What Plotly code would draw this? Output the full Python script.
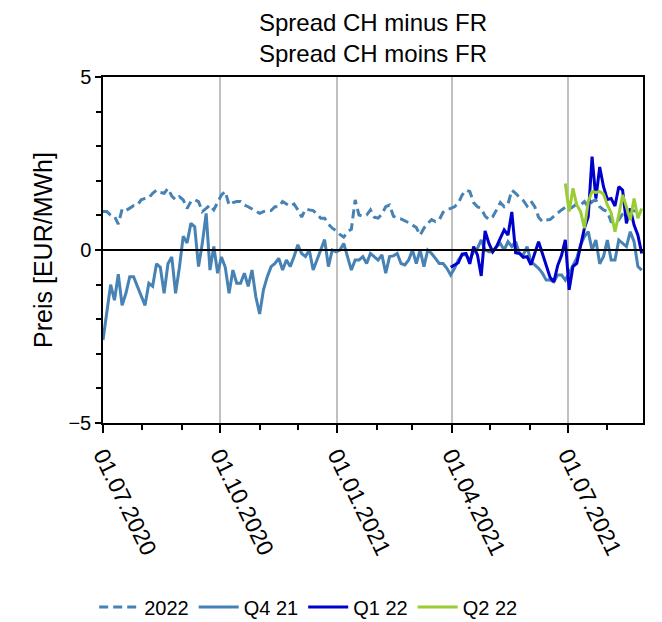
import pandas as pd
import plotly.graph_objects as go

# sampled every 3 days starting 01.07.2020
start = '2020-07-01'

cal_2022 = [1.11, 1.11, 1.01, 0.98, 0.75, 1.18, 1.14, 1.2, 1.28, 1.3, 1.45, 1.49,
            1.51, 1.64, 1.73, 1.66, 1.64, 1.78, 1.56, 1.45, 1.54, 1.45, 1.2, 1.4,
            1.45, 1.4, 1.11, 1.2, 1.3, 1.16, 1.4, 1.59, 1.69, 1.3, 1.37, 1.4,
            1.4, 1.3, 1.25, 1.18, 1.11, 1.06, 1.11, 1.14, 1.14, 1.25, 1.25, 1.4,
            1.33, 1.27, 1.33, 1.16, 0.95, 1.18, 1.16, 1.14, 1.04, 0.92, 0.92, 0.75,
            0.63, 0.56, 0.45, 0.37, 0.53, 0.6, 1.45, 1.01, 0.98, 1.01, 1.16,
            0.95, 0.92, 1.04, 1.25, 1.3, 0.98, 0.92, 0.9, 0.85, 0.79, 0.72, 0.65,
            0.43, 0.63, 0.77, 0.88, 0.82, 0.87, 1.09, 1.16, 1.2, 1.25, 1.35, 1.59,
            1.73, 1.69, 1.37, 1.25, 1.2, 0.98, 0.88, 0.96, 1.16, 1.37, 1.25,
            1.33, 1.73, 1.64, 1.52, 1.43, 1.27, 1.41, 1.25, 0.95, 0.82, 0.87, 0.88,
            0.98, 1.06, 1.16, 1.23, 1.18, 1.25, 1.33, 1.3, 1.4, 1.25, 1.4, 1.45,
            1.25, 1.16, 1.11, 0.82, 0.79, 0.87, 1.04, 1.11, 1.16, 1.13, 1.16, 1.11]

q4_21 = [-2.6, -1.8, -1.0, -1.45, -0.7, -1.6, -1.25, -0.77, -0.77, -1.05, -1.35, -1.6,
         -0.96, -1.05, -0.4, -0.5, -1.25, -0.4, -0.2, -1.25, -0.5, 0.4, 0.2, 0.77,
         0.67, -0.48, 0.2, 1.06, -0.58, 0.1, -0.67, -0.2, -0.5, -1.25, -0.58, -0.96,
         -0.96, -0.67, -1.05, -0.58, -1.35, -1.85, -1.15, -0.77, -0.48, -0.39, -0.24, -0.58,
         -0.29, -0.48, -0.19, 0.15, -0.1, -0.19, 0.0, -0.58, -0.29, 0.0, 0.3, -0.48,
         0.0, -0.05, 0.0, 0.19, -0.19, -0.58, -0.29, -0.29, -0.19, -0.39, -0.1,
         -0.19, -0.29, -0.14, -0.67, -0.19, -0.17, -0.1, -0.39, -0.43, -0.29, 0.0, -0.39,
         0.0, -0.48, 0.0, -0.1, -0.24, -0.39, -0.39, -0.53, -0.72, -0.53, -0.29, -0.14,
         -0.14, -0.29, -0.05, 0.05, 0.29, 0.0, -0.05, -0.05, 0.1, 0.19, 0.0,
         0.24, 0.1, 0.24, -0.1, -0.14, 0.1, -0.34, -0.43, -0.53, -0.67, -0.87, -0.87,
         -0.92, -0.72, -0.72, -0.87, -0.67, -0.48, -0.24, 0.15, 0.39, 0.53, 0.0, 0.29,
         -0.4, -0.19, 0.29, -0.29, -0.29, 0.29, 0.19, 0.1, 0.53, 0.24, -0.48, -0.58]

# from 31.03.2021
q1_22 = [-0.5, -0.43, -0.37, -0.12, -0.1, -0.4, 0.1, -0.14, -0.75, 0.55, 0.19, -0.05,
         0.1, 0.34, 0.58,
         0.43, 1.1, -0.08, -0.1, -0.21, -0.19, -0.43, -0.1, 0.24, -0.1, -0.48, -0.79,
         -0.92, -0.45, -0.16, 0.29, -1.15, -0.48, -0.39, 0.1, 0.63, 0.96, 2.7, 1.49,
         2.4, 1.83, 1.46, 1.49, 1.27, 1.83, 1.73, 0.77, 1.2, 0.72, 0.43, -0.1]

# from 29.06.2021
q2_22 = [1.92, 1.11, 1.78, 1.3, 1.11, 0.63, 1.4, 1.69, 1.66, 1.69, 1.62, 1.3,
         1.08, 0.53, 1.01, 1.59, 1.25, 0.87, 1.49, 0.92, 1.2]

dates_main = pd.date_range(start, periods=len(q4_21), freq='3D')
dates_q1 = pd.date_range('2021-03-31', periods=len(q1_22), freq='3D')
dates_q2 = pd.date_range('2021-06-29', periods=len(q2_22), freq='3D')

font = 'Liberation Sans, Arial, sans-serif'

fig = go.Figure()
fig.add_trace(go.Scatter(x=dates_main, y=cal_2022, mode='lines', name='2022',
                         line=dict(color='#4682B4', width=3, dash='9px,5px')))
fig.add_trace(go.Scatter(x=dates_main, y=q4_21, mode='lines', name='Q4 21',
                         line=dict(color='#4682B4', width=3)))
fig.add_trace(go.Scatter(x=dates_q1, y=q1_22, mode='lines', name='Q1 22',
                         line=dict(color='#0000CD', width=3)))
fig.add_trace(go.Scatter(x=dates_q2, y=q2_22, mode='lines', name='Q2 22',
                         line=dict(color='#9ACD32', width=3)))

fig.add_hline(y=0, line_color='black', line_width=2)

# the page adds an 8px body margin, so the figure is a bit smaller than the window
fig.update_layout(
    width=654, height=614,
    margin=dict(l=95, r=19, t=69, b=199),
    paper_bgcolor='white', plot_bgcolor='white',
    font=dict(family=font, size=20, color='black'),
    title=dict(text='Spread CH minus FR<br>Spread CH moins FR', x=0.5, xref='paper',
               xanchor='center', y=0.963, yref='container', yanchor='bottom',
               font=dict(size=24)),
    showlegend=True,
    legend=dict(orientation='h', x=0.38, xanchor='center',
                y=1 - 599 / 614, yref='container', yanchor='middle',
                font=dict(size=20), itemwidth=40),
)

fig.update_xaxes(
    range=['2020-07-01', '2021-08-29'], automargin=False,
    tick0='2020-07-01', dtick='M3', tickformat='%d.%m.%Y', tickangle=64,
    ticks='outside', ticklen=8, tickwidth=1.5, tickcolor='black',
    minor=dict(dtick='M1', ticks='outside', ticklen=5, tickcolor='black', showgrid=False),
    showgrid=True, gridcolor='#c0c0c0', gridwidth=1.5,
    showline=True, linecolor='black', linewidth=1.5, mirror=True,
    tickfont=dict(size=23),
)
fig.update_yaxes(
    range=[-5, 5], tickvals=[-5, 0, 5], ticktext=['−5', '0', '5'], automargin=False,
    ticks='outside', ticklen=6, tickwidth=1.5, tickcolor='black',
    minor=dict(dtick=1, ticks='outside', ticklen=5, tickcolor='black', showgrid=False),
    showgrid=False, zeroline=False,
    showline=True, linecolor='black', linewidth=1.5, mirror=True,
    title=dict(text='Preis [EUR/MWh]', font=dict(size=25), standoff=9),
    tickfont=dict(size=20),
)

fig.write_html('out.html')
